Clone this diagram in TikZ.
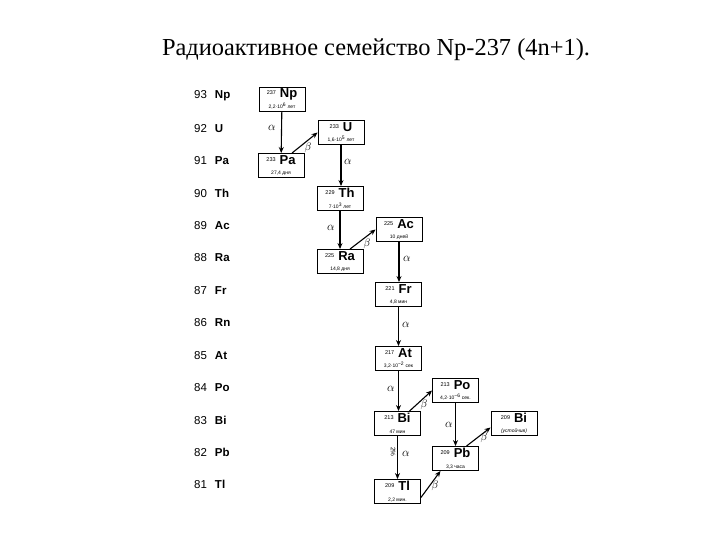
\documentclass[tikz,border=0pt]{standalone}
\usepackage{fontspec}
\setmainfont{Liberation Serif}
\newfontfamily\dsans{Liberation Sans}
\usetikzlibrary{arrows.meta}
\tikzset{
  nuc/.style={draw, line width=0.9pt, minimum width=46pt, minimum height=24pt,
    inner sep=1pt, align=center, font=\dsans},
  decay/.style={line width=1.1pt, -{Stealth[length=6pt,width=5pt]}},
  rowlab/.style={font=\dsans\fontsize{11.5}{13}\selectfont, anchor=west, inner sep=0pt},
  alab/.style={font=\fontsize{13}{13}\selectfont, inner sep=0pt},
  blab/.style={font=\fontsize{11}{11}\selectfont, inner sep=0pt},
}
\newcommand\isotxt[3]{\raisebox{3pt}{\fontsize{5.5}{5.5}\selectfont #1}\hspace{4pt}{\fontsize{13}{13}\selectfont\bfseries #2}\\[-1.5pt]{\fontsize{5}{6}\selectfont #3}}
\begin{document}
\begin{tikzpicture}[x=1pt,y=-1pt]
\useasboundingbox (0,0) rectangle (720,540);
\node[font=\fontsize{24.4}{28}\selectfont, inner sep=0pt] (title) at (376,50)
  {Радиоактивное семейство Np-237 (4n+1).};
% row labels
\node[rowlab] (r93) at (194,96.0) {93\hspace{8pt}\textbf{Np}};
\node[rowlab] (r92) at (194,128.4) {92\hspace{8pt}\textbf{U}};
\node[rowlab] (r91) at (194,160.8) {91\hspace{8pt}\textbf{Pa}};
\node[rowlab] (r90) at (194,193.2) {90\hspace{8pt}\textbf{Th}};
\node[rowlab] (r89) at (194,225.6) {89\hspace{8pt}\textbf{Ac}};
\node[rowlab] (r88) at (194,258.0) {88\hspace{8pt}\textbf{Ra}};
\node[rowlab] (r87) at (194,290.4) {87\hspace{8pt}\textbf{Fr}};
\node[rowlab] (r86) at (194,322.8) {86\hspace{8pt}\textbf{Rn}};
\node[rowlab] (r85) at (194,355.2) {85\hspace{8pt}\textbf{At}};
\node[rowlab] (r84) at (194,387.6) {84\hspace{8pt}\textbf{Po}};
\node[rowlab] (r83) at (194,420.0) {83\hspace{8pt}\textbf{Bi}};
\node[rowlab] (r82) at (194,452.4) {82\hspace{8pt}\textbf{Pb}};
\node[rowlab] (r81) at (194,484.8) {81\hspace{8pt}\textbf{Tl}};
% nuclide boxes
\node[nuc] (Np) at (282,99.0) {\isotxt{237}{Np}{2,2·10\textsuperscript{6} лет}};
\node[nuc] (U) at (341,132.5) {\isotxt{233}{U}{1,6·10\textsuperscript{5} лет}};
\node[nuc] (Pa) at (281,165.5) {\isotxt{233}{Pa}{27,4 дня}};
\node[nuc] (Th) at (340,198.5) {\isotxt{229}{Th}{7·10\textsuperscript{3} лет}};
\node[nuc] (Ac) at (399,229.5) {\isotxt{225}{Ac}{10 дней}};
\node[nuc] (Ra) at (340,261.5) {\isotxt{225}{Ra}{14,8 дня}};
\node[nuc] (Fr) at (398.5,294.5) {\isotxt{221}{Fr}{4,8 мин}};
\node[nuc] (At) at (398.5,358.5) {\isotxt{217}{At}{3,2·10\textsuperscript{−2} сек}};
\node[nuc] (Po) at (455.5,390.5) {\isotxt{213}{Po}{4,2·10\textsuperscript{−6} сек.}};
\node[nuc] (Bia) at (397.5,423.5) {\isotxt{213}{Bi}{47 мин}};
\node[nuc] (Bib) at (514,423.5) {\isotxt{209}{Bi}{\itshape(устойчив)}};
\node[nuc] (Pb) at (455.5,458.5) {\isotxt{209}{Pb}{3,3 часа}};
\node[nuc] (Tl) at (397.5,491.5) {\isotxt{209}{Tl}{2,2 мин.}};
% decays
\draw[decay] (Np) -- (Pa);
\node[alab] (a1) at (272,128) {$\alpha$};
\draw[decay] ([xshift=11pt]Pa.north) -- (U.west);
\node[blab] (b1) at (308,148) {$\beta$};
\draw[decay] (U.south) -- (U.south |- Th.north);
\node[alab] (a2) at (348,162) {$\alpha$};
\draw[decay] (Th) -- (Ra);
\node[alab] (a3) at (331,228) {$\alpha$};
\draw[decay] ([xshift=10pt]Ra.north) -- (Ac.west);
\node[blab] (b2) at (367,244) {$\beta$};
\draw[decay] (Ac.south) -- (Ac.south |- Fr.north);
\node[alab] (a4) at (407,259) {$\alpha$};
\draw[decay] (Fr) -- (At);
\node[alab] (a5) at (406,325) {$\alpha$};
\draw[decay] (At.south) -- (At.south |- Bia.north);
\node[alab] (a6) at (391,389) {$\alpha$};
\draw[decay] ([xshift=12pt]Bia.north) -- (Po.west);
\node[blab] (b3) at (424,405) {$\beta$};
\draw[decay] (Po) -- (Pb);
\node[alab] (a7) at (449,425) {$\alpha$};
\draw[decay] ([xshift=11pt]Pb.north) -- ([yshift=-4pt]Bib.west);
\node[blab] (b4) at (484,438) {$\beta$};
\draw[decay] (Bia) -- (Tl);
\node[font=\dsans\fontsize{6.5}{6.5}\selectfont, rotate=-90, inner sep=0pt] (pc) at (393,452) {2\%};
\node[alab] (a8) at (406,454) {$\alpha$};
\draw[decay] ([yshift=-6pt]Tl.east) -- ([xshift=-15pt]Pb.south);
\node[blab] (b5) at (435,486) {$\beta$};
\end{tikzpicture}
\end{document}
